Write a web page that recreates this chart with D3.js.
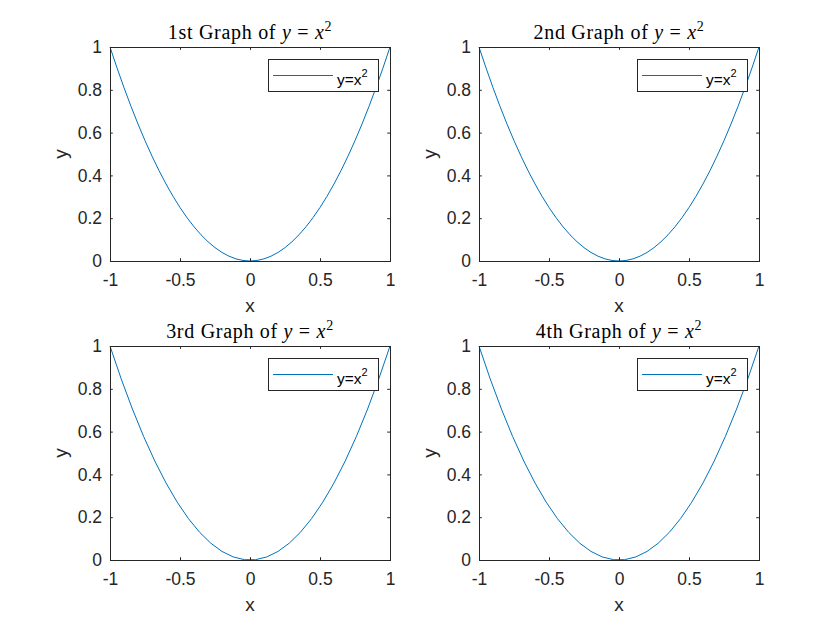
<!DOCTYPE html>
<html>
<head>
<meta charset="utf-8">
<script src="https://cdn.jsdelivr.net/npm/d3@7"></script>
<style>
  body { margin: 0; background: #fff; }
  svg { display: block; }
</style>
</head>
<body>
<svg id="chart" width="840" height="630"></svg>
<script>
// sample points read off the curves: top row is sampled through 0,
// bottom row samples straddle 0 (small flat bit at the bottom)
const xFine = [-1, -0.95, -0.9, -0.85, -0.8, -0.75, -0.7, -0.65, -0.6, -0.55, -0.5,
  -0.45, -0.4, -0.35, -0.3, -0.25, -0.2, -0.15, -0.1, -0.05, 0,
  0.05, 0.1, 0.15, 0.2, 0.25, 0.3, 0.35, 0.4, 0.45, 0.5,
  0.55, 0.6, 0.65, 0.7, 0.75, 0.8, 0.85, 0.9, 0.95, 1];
const yFine = [1, 0.9025, 0.81, 0.7225, 0.64, 0.5625, 0.49, 0.4225, 0.36, 0.3025, 0.25,
  0.2025, 0.16, 0.1225, 0.09, 0.0625, 0.04, 0.0225, 0.01, 0.0025, 0,
  0.0025, 0.01, 0.0225, 0.04, 0.0625, 0.09, 0.1225, 0.16, 0.2025, 0.25,
  0.3025, 0.36, 0.4225, 0.49, 0.5625, 0.64, 0.7225, 0.81, 0.9025, 1];
const xCoarse = [-1, -0.92, -0.84, -0.76, -0.68, -0.6, -0.52, -0.44, -0.36, -0.28, -0.2, -0.12, -0.04,
  0.04, 0.12, 0.2, 0.28, 0.36, 0.44, 0.52, 0.6, 0.68, 0.76, 0.84, 0.92, 1];
const yCoarse = [1, 0.8464, 0.7056, 0.5776, 0.4624, 0.36, 0.2704, 0.1936, 0.1296, 0.0784, 0.04, 0.0144, 0.0016,
  0.0016, 0.0144, 0.04, 0.0784, 0.1296, 0.1936, 0.2704, 0.36, 0.4624, 0.5776, 0.7056, 0.8464, 1];

const ordinals = ['1st', '2nd', '3rd', '4th'];
const xTicks = [-1, -0.5, 0, 0.5, 1];
const yTicks = [0, 0.2, 0.4, 0.6, 0.8, 1];
const legendLabel = 'y=x';

const ink = '#262626';
const lineColor = '#0072BD';
const sans = 'Liberation Sans, Arial, Helvetica, sans-serif';

const svg = d3.select('#chart');

const cols = [110, 479];
const rows = [47, 346];
const w = 280, h = 214;

ordinals.forEach((ord, i) => {
  const left = cols[i % 2], top = rows[Math.floor(i / 2)];
  const xs = i < 2 ? xFine : xCoarse;
  const ys = i < 2 ? yFine : yCoarse;
  const pts = xs.map((x, k) => [x, ys[k]]);

  const x = d3.scaleLinear().domain([-1, 1]).range([0, w]);
  const y = d3.scaleLinear().domain([0, 1]).range([h, 0]);

  const g = svg.append('g').attr('transform', `translate(${left},${top})`);

  g.append('rect').attr('width', w).attr('height', h).attr('fill', '#fff');

  // curve
  g.append('path')
    .datum(pts)
    .attr('fill', 'none')
    .attr('stroke', lineColor)
    .attr('stroke-width', 1)
    .attr('d', d3.line().x(d => x(d[0])).y(d => y(d[1])));

  // axes, ticks inward on all four sides
  const tl = 2.8;
  const fmt = d => String(d);
  const styleAxis = sel => {
    sel.select('.domain').remove();
    sel.selectAll('line').attr('stroke', ink);
    sel.selectAll('text')
      .attr('fill', ink)
      .style('font-family', sans)
      .style('font-size', '17.5px');
  };
  g.append('g').attr('transform', `translate(0,${h})`)
    .call(d3.axisBottom(x).tickValues(xTicks).tickFormat(fmt).tickSizeInner(-tl).tickPadding(13))
    .call(styleAxis);
  g.append('g')
    .call(d3.axisTop(x).tickValues(xTicks).tickSizeInner(-tl).tickFormat(''))
    .call(styleAxis);
  g.append('g')
    .call(d3.axisLeft(y).tickValues(yTicks).tickFormat(fmt).tickSizeInner(-tl).tickPadding(8))
    .call(styleAxis);
  g.append('g').attr('transform', `translate(${w},0)`)
    .call(d3.axisRight(y).tickValues(yTicks).tickSizeInner(-tl).tickFormat(''))
    .call(styleAxis);

  g.append('rect').attr('width', w).attr('height', h)
    .attr('fill', 'none').attr('stroke', ink).attr('stroke-width', 1)
    .attr('shape-rendering', 'crispEdges');

  // axis labels
  g.append('text')
    .attr('x', w / 2).attr('y', h + 51)
    .attr('text-anchor', 'middle')
    .attr('fill', ink)
    .style('font-family', sans)
    .style('font-size', '19px')
    .text('x');
  g.append('text')
    .attr('transform', `translate(${-43},${h / 2}) rotate(-90)`)
    .attr('text-anchor', 'middle')
    .attr('fill', ink)
    .style('font-family', sans)
    .style('font-size', '19px')
    .text('y');

  // title, latex style
  const t = g.append('text')
    .attr('x', w / 2).attr('y', -8)
    .attr('text-anchor', 'middle')
    .attr('fill', '#000')
    .style('font-family', 'Liberation Serif, Times New Roman, serif')
    .style('font-size', '20px')
    .style('letter-spacing', '0.7px');
  t.append('tspan').text(`${ord} Graph of `);
  t.append('tspan').style('font-style', 'italic').text('y');
  t.append('tspan').text(' = ');
  t.append('tspan').style('font-style', 'italic').text('x');
  t.append('tspan').attr('dy', -8).style('font-size', '14px').text('2');

  // legend
  const lg = g.append('g').attr('transform', `translate(${w - 122},12)`);
  lg.append('rect').attr('width', 110).attr('height', 32)
    .attr('fill', '#fff').attr('stroke', ink).attr('stroke-width', 1)
    .attr('shape-rendering', 'crispEdges');
  lg.append('line').attr('x1', 5).attr('x2', 65).attr('y1', 16.5).attr('y2', 16.5)
    .attr('stroke', lineColor).attr('stroke-width', 1);
  const lt = lg.append('text').attr('x', 69).attr('y', 26)
    .attr('fill', '#000')
    .style('font-family', sans)
    .style('font-size', '15.5px');
  lt.append('tspan').text(legendLabel);
  lt.append('tspan').attr('dy', -8).style('font-size', '11px').text('2');
});
</script>
</body>
</html>
